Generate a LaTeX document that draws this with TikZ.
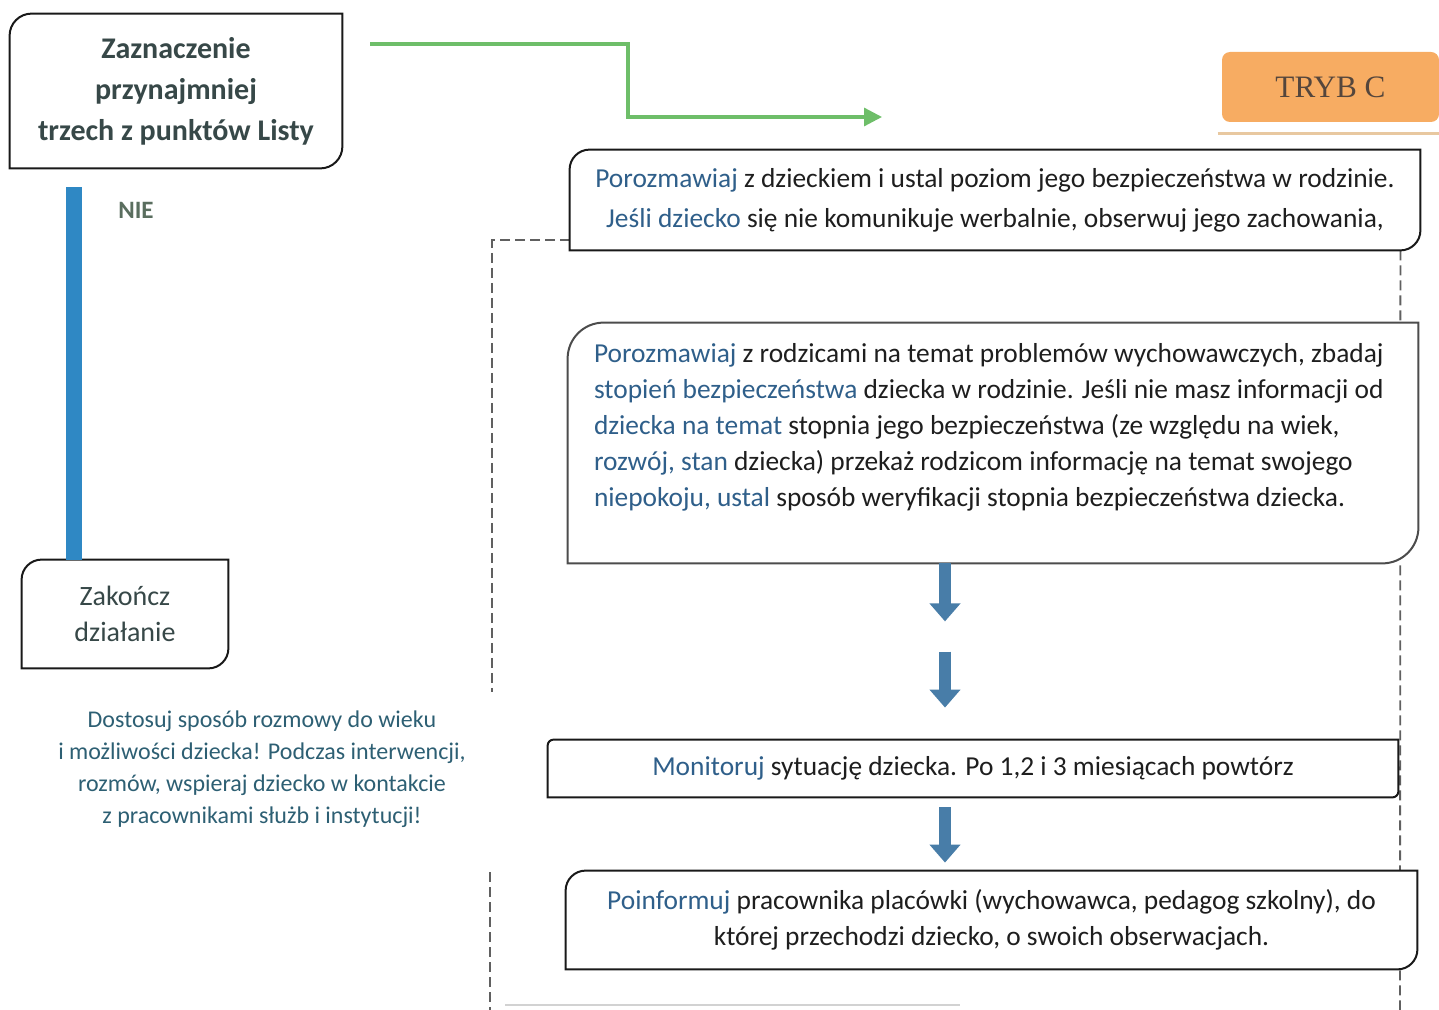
\documentclass[tikz,border=0pt]{standalone}
\usepackage{fontspec}
\setmainfont{Carlito}
\newfontfamily\trybfont{Liberation Serif}
\usetikzlibrary{arrows.meta,positioning,backgrounds}

\definecolor{wordblue}{RGB}{47,95,138}
\definecolor{textdark}{RGB}{30,30,30}
\definecolor{titlegray}{RGB}{55,72,72}
\definecolor{notecol}{RGB}{45,95,115}
\definecolor{niecol}{RGB}{90,110,95}
\definecolor{barblue}{RGB}{47,136,196}
\definecolor{stepblue}{RGB}{72,125,168}
\definecolor{arrowgreen}{RGB}{110,190,105}
\definecolor{trybfill}{RGB}{247,172,98}
\definecolor{trybtext}{RGB}{85,70,60}
\definecolor{trybline}{RGB}{232,200,160}

\newcommand{\hl}[1]{\textcolor{wordblue}{#1}}
\newcommand{\diagframe}[3][10pt]{%
	\draw[#3] (#2.south west) -- ([yshift=-#1]#2.north west)
		arc[start angle=180,end angle=90,radius=#1] -- (#2.north east)
		-- ([yshift=#1]#2.south east)
		arc[start angle=0,end angle=-90,radius=#1] -- cycle;}

\begin{document}
\begin{tikzpicture}[x=0.5pt,y=-0.5pt,
		box/.style={fill=white, inner sep=0pt, text=textdark, align=center, font=\fontsize{13.7}{20}\selectfont},
		boxline/.style={gray!20!black, line width=1pt},
		dashline/.style={gray!75!black, line width=0.9pt, dash pattern=on 5pt off 2.5pt},
		steparrow/.style={stepblue, line width=6pt, -{Triangle[length=9pt,width=15pt]}}]
		\useasboundingbox (0,0) rectangle (1439,1010);

		\node[box, minimum width=166pt, minimum height=77pt, text=titlegray, font=\bfseries\fontsize{15}{20.5}\selectfont] (lista) at (176,91) {Zaznaczenie\\przynajmniej\\trzech z punktów Listy};
		\diagframe[11pt]{lista}{boxline}

		\node[box, minimum width=103pt, minimum height=54pt, text=titlegray, font=\fontsize{14}{18}\selectfont] (koniec) at (125,614) {Zakończ\\działanie};
		\diagframe[10pt]{koniec}{boxline}

		\node[text=niecol, font=\bfseries\fontsize{12.5}{14}\selectfont] (nie) at (136,210) {NIE};
		\draw[barblue, line width=8pt] ([xshift=-51pt,yshift=-9.5pt]lista.south) coordinate (slupek) -- (slupek |- koniec.north);

		\node[align=center, text=notecol, font=\fontsize{12}{16}\selectfont] (uwaga) at (262,769) {Dostosuj sposób rozmowy do wieku\\i możliwości dziecka! Podczas interwencji,\\rozmów, wspieraj dziecko w kontakcie\\z pracownikami służb i instytucji!};

		\node[fill=trybfill, rounded corners=4pt, minimum width=108.5pt, minimum height=35pt, text=trybtext, font=\trybfont\fontsize{15.6}{17}\selectfont] (tryb) at (1330.5,87) {TRYB C};
		\draw[trybline, line width=1.5pt] ([xshift=-2pt,yshift=-5.5pt]tryb.south west) -- ([yshift=-5.5pt]tryb.south east);

		\coordinate (zielonystart) at (370,44);
		\coordinate (zielonyzakret) at (628,117);
		\coordinate (zielonykoniec) at (882,117);
		\draw[arrowgreen, line width=1.6pt, -{Triangle[length=9pt,width=9pt]}] (zielonystart) -| (zielonyzakret) -- (zielonykoniec);

		\node[box, minimum width=425pt, minimum height=50pt] (dziecko) at (995,200) {\hl{Porozmawiaj} z dzieckiem i ustal poziom jego bezpieczeństwa w rodzinie.\\\hl{Jeśli dziecko} się nie komunikuje werbalnie, obserwuj jego zachowania,};
		\diagframe[10pt]{dziecko}{boxline}

		\node[box, minimum width=425pt, minimum height=120pt] (rodzice) at (993,443) {};
		\node[anchor=north west, align=left, inner sep=0pt, text=textdark, font=\fontsize{13.7}{18}\selectfont] (rodzicetxt) at ([xshift=13pt,yshift=-10pt]rodzice.north west) {\hl{Porozmawiaj} z rodzicami na temat problemów wychowawczych, zbadaj\\\hl{stopień bezpieczeństwa} dziecka w rodzinie. Jeśli nie masz informacji od\\\hl{dziecka na temat} stopnia jego bezpieczeństwa (ze względu na wiek,\\\hl{rozwój, stan} dziecka) przekaż rodzicom informację na temat swojego\\\hl{niepokoju, ustal} sposób weryfikacji stopnia bezpieczeństwa dziecka.};
		\diagframe[18pt]{rodzice}{gray!60!black, line width=1pt}

		\node[box, minimum width=425pt, minimum height=28.5pt] (monitor) at (973,768.5) {\hl{Monitoruj} sytuację dziecka. Po 1,2 i 3 miesiącach powtórz};
		\diagframe[3pt]{monitor}{boxline}

		\node[box, minimum width=425.5pt, minimum height=49pt, font=\fontsize{13.7}{18}\selectfont] (informacja) at (991.5,920) {\hl{Poinformuj} pracownika placówki (wychowawca, pedagog szkolny), do\\której przechodzi dziecko, o swoich obserwacjach.};
		\diagframe[10pt]{informacja}{boxline}

		\draw[steparrow] ([xshift=-24pt]rodzice.south) -- ++(0,58);
		\draw[steparrow] ([xshift=-14pt,yshift=44pt]monitor.north) -- ([xshift=-14pt,yshift=16pt]monitor.north);
		\draw[steparrow] ([xshift=-14pt,yshift=-5pt]monitor.south) -- ([xshift=-23.25pt,yshift=4pt]informacja.north);

		\begin{scope}[on background layer]
			\coordinate (lewydol) at (492,692);
			\coordinate (lewygora) at (490,872);
			\coordinate (lewykoniec) at (490,1010);
			\coordinate (prawykoniec) at (1400,1010);
			\draw[dashline] ([yshift=5pt]dziecko.south west) -| (lewydol);
			\draw[dashline] (lewygora) -- (lewykoniec);
			\draw[dashline] ([xshift=-10pt]dziecko.south east) -- (prawykoniec);
			\draw[gray!35, line width=0.6pt] (505,1005) -- (960,1005);
		\end{scope}
	\end{tikzpicture}
\end{document}
